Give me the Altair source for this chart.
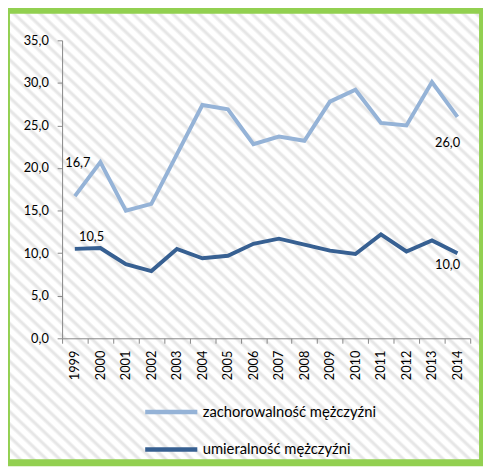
import altair as alt
import pandas as pd

years = ["1999", "2000", "2001", "2002", "2003", "2004", "2005", "2006",
         "2007", "2008", "2009", "2010", "2011", "2012", "2013", "2014"]
zachorowalnosc = [16.7, 20.7, 15.0, 15.8, 21.6, 27.4, 26.9, 22.8,
                  23.7, 23.2, 27.8, 29.2, 25.3, 25.0, 30.1, 26.0]
umieralnosc = [10.5, 10.6, 8.7, 7.9, 10.5, 9.4, 9.7, 11.1,
               11.7, 11.0, 10.3, 9.9, 12.2, 10.2, 11.5, 10.0]
series_names = ["zachorowalność mężczyźni", "umieralność mężczyźni"]
series_colors = ["#95B3D7", "#376092"]
y_ticks = [0, 5, 10, 15, 20, 25, 30, 35]

df = pd.DataFrame({
    "rok": years + years,
    "wartosc": zachorowalnosc + umieralnosc,
    "seria": [series_names[0]] * len(years) + [series_names[1]] * len(years),
})

FONT = "Lato"
AXIS_GRAY = "#868686"
W, H = 415, 303

# decorative hatched background with green frame
stops = []
n_stripes = 72
for i in range(n_stripes):
    p = i / n_stripes
    d = 1 / n_stripes
    stops += [
        {"offset": round(p, 5), "color": "#ffffff"},
        {"offset": round(p + 0.25 * d, 5), "color": "#e6e6e6"},
        {"offset": round(p + 0.37 * d, 5), "color": "#e6e6e6"},
        {"offset": round(p + 0.58 * d, 5), "color": "#ffffff"},
    ]
stops.append({"offset": 1, "color": "#ffffff"})
hatch = {"gradient": "linear", "x1": 0, "y1": 1, "x2": 1, "y2": 0, "stops": stops}

frame = alt.Chart(pd.DataFrame({"k": [0]})).mark_rect(
    fill=hatch, stroke="#92D050", strokeWidth=7
).encode(
    x=alt.value(-56.5), x2=alt.value(427.5),
    y=alt.value(-30.5), y2=alt.value(429.5),
)

x_enc = alt.X(
    "rok:O",
    sort=years,
    scale=alt.Scale(type="band", paddingInner=0, paddingOuter=0),
    axis=alt.Axis(
        title=None, labelAngle=-90, tickBand="extent", tickSize=5,
        labelPadding=7, labelFont=FONT, labelFontSize=13, labelColor="#000000",
        domainColor=AXIS_GRAY, tickColor=AXIS_GRAY, grid=False, zindex=1,
    ),
)
y_enc = alt.Y(
    "wartosc:Q",
    scale=alt.Scale(domain=[0, 35], nice=False),
    axis=alt.Axis(
        title=None, values=y_ticks, tickSize=5, labelPadding=9,
        labelExpr="replace(format(datum.value, '.1f'), '.', ',')",
        labelFont=FONT, labelFontSize=13, labelColor="#000000",
        domainColor=AXIS_GRAY, tickColor=AXIS_GRAY, grid=False, zindex=1,
    ),
)
color_enc = alt.Color(
    "seria:N",
    scale=alt.Scale(domain=series_names, range=series_colors),
    legend=alt.Legend(
        title=None, orient="none", legendX=82, legendY=349, direction="vertical",
        symbolType="stroke", symbolSize=2809, symbolStrokeWidth=4.5,
        labelFont=FONT, labelFontSize=15, labelColor="#000000",
        rowPadding=-18, labelOffset=3, labelLimit=400, zindex=1,
    ),
)

base = alt.Chart(df)
lines = base.mark_line(strokeWidth=4, strokeJoin="miter").encode(
    x=x_enc, y=y_enc, color=color_enc
)

label_calc = "replace(format(datum.wartosc, '.1f'), '.', ',')"


def label(year, series, dx, dy):
    return base.transform_filter(
        (alt.datum.rok == year) & (alt.datum.seria == series)
    ).transform_calculate(txt=label_calc).mark_text(
        font=FONT, fontSize=13, color="#000000", align="center",
        baseline="middle", dx=dx, dy=dy,
    ).encode(x=x_enc, y=y_enc, text="txt:N")


chart = alt.layer(
    frame,
    lines,
    label("1999", series_names[0], 3, -34),
    label("1999", series_names[1], 17, -12),
    label("2014", series_names[0], -10, 27),
    label("2014", series_names[1], -10, 12),
).properties(
    width=W, height=H,
    autosize=alt.AutoSizeParams(type="none"),
    padding={"left": 55, "top": 29, "right": 13, "bottom": 127},
    background="#ffffff",
).configure_view(stroke=None)

chart.save("out.html", embed_options={"renderer": "svg", "actions": False})
